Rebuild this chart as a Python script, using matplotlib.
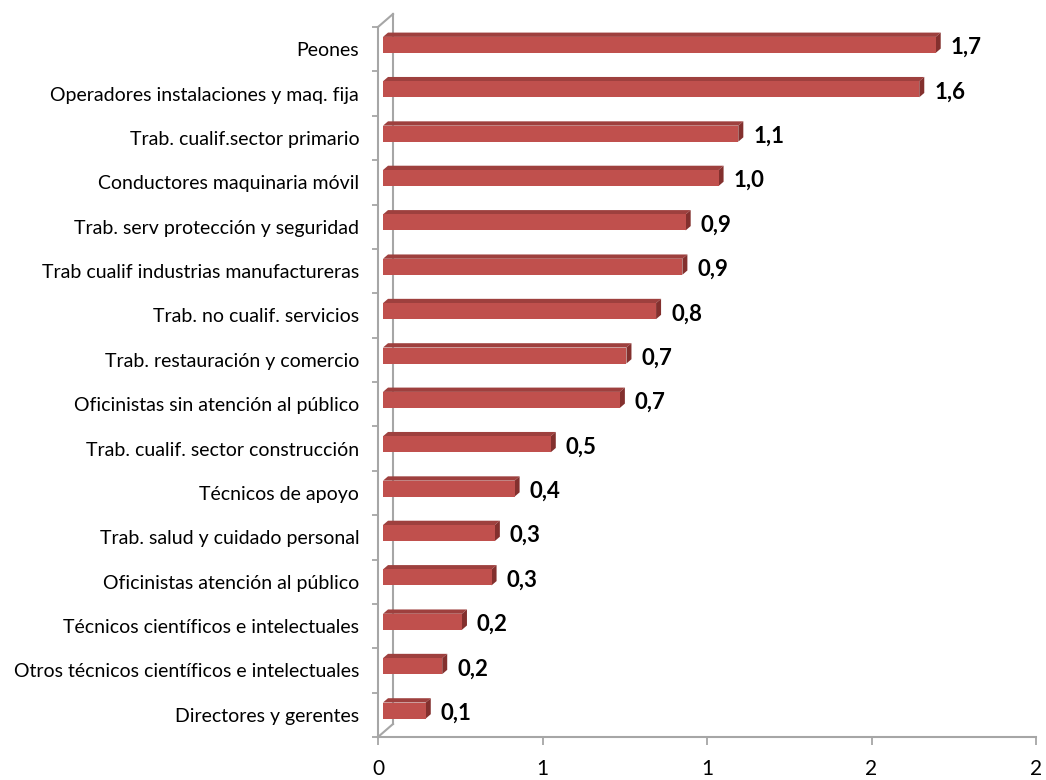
import matplotlib.pyplot as plt
from matplotlib.patches import Polygon
from matplotlib.lines import Line2D

# data (top to bottom as in the chart)
categories = [
    "Peones",
    "Operadores instalaciones y maq. fija",
    "Trab. cualif.sector primario",
    "Conductores maquinaria móvil",
    "Trab. serv protección y seguridad",
    "Trab cualif industrias manufactureras",
    "Trab. no cualif. servicios",
    "Trab. restauración y comercio",
    "Oficinistas sin atención al público",
    "Trab. cualif. sector construcción",
    "Técnicos de apoyo",
    "Trab. salud y cuidado personal",
    "Oficinistas atención al público",
    "Técnicos científicos e intelectuales",
    "Otros técnicos científicos e intelectuales",
    "Directores y gerentes",
]
values = [1.68, 1.63, 1.08, 1.02, 0.92, 0.91, 0.83, 0.74, 0.72, 0.51,
          0.40, 0.34, 0.33, 0.24, 0.18, 0.13]
xticks = [0, 0.5, 1, 1.5, 2]
xtick_labels = ["0", "1", "1", "2", "2"]

FRONT = "#C0504D"
TOP = "#9E403E"
SIDE = "#83302E"
AXC = "#A6A6A6"

plt.rcParams["font.family"] = ["Lato", "DejaVu Sans"]

W, H = 1046, 780
fig = plt.figure(figsize=(W / 100, H / 100), dpi=100)
left, right, bottom, top = 378, 1036, 737, 27
ax = fig.add_axes([left / W, 1 - bottom / H, (right - left) / W, (bottom - top) / H])

n = len(categories)
ax.set_xlim(0, 2)
ax.set_ylim(-0.5, n - 0.5)

# pixel -> data conversions for the oblique 3D look
px_x = 2 / (right - left)
px_y = n / (bottom - top)
wall_dx, wall_dy = 15 * px_x, 13 * px_y
dx1, dy1 = 5 * px_x, 4.3 * px_y      # front face of bars sits 1/3 into depth
ddx, ddy = 5 * px_x, 4.3 * px_y      # bar depth
bh = 16 * px_y

ypos = list(range(n - 1, -1, -1))
for y, v in zip(ypos, values):
    b = y - bh / 2 + dy1
    t = b + bh
    x0 = dx1
    x1 = dx1 + v
    ax.add_patch(Polygon([(x0, t), (x1, t), (x1 + ddx, t + ddy), (x0 + ddx, t + ddy)],
                         closed=True, facecolor=TOP, edgecolor="none", zorder=3))
    ax.add_patch(Polygon([(x1, b), (x1, t), (x1 + ddx, t + ddy), (x1 + ddx, b + ddy)],
                         closed=True, facecolor=SIDE, edgecolor="none", zorder=3))
    ax.barh(y + dy1, v, height=bh, left=x0, color=FRONT, edgecolor="none", zorder=4)
    ax.text(x1 + ddx + 10 * px_x, y + dy1 * 0.4, f"{v:.1f}".replace(".", ","),
            ha="left", va="center", fontsize=16, fontweight="bold", color="black")

# back wall lines
y_lo, y_hi = -0.5, n - 0.5
for xs, ys in [([0, wall_dx], [y_hi, y_hi + wall_dy]),
               ([wall_dx, wall_dx], [y_lo + wall_dy, y_hi + wall_dy]),
               ([0, wall_dx], [y_lo, y_lo + wall_dy])]:
    ax.add_line(Line2D(xs, ys, color=AXC, lw=1.5, clip_on=False, zorder=2))

for s in ["top", "right"]:
    ax.spines[s].set_visible(False)
for s in ["left", "bottom"]:
    ax.spines[s].set_color(AXC)
    ax.spines[s].set_linewidth(1.5)

ax.set_xticks(xticks)
ax.set_xticklabels(xtick_labels, fontsize=15)
ax.tick_params(axis="x", length=6, width=1.3, color=AXC, pad=10)

ax.set_yticks(ypos)
ax.set_yticklabels(categories, fontsize=14)
ax.set_yticks([i - 0.5 for i in range(n + 1)], minor=True)
ax.tick_params(axis="y", which="major", length=0, pad=13.5)
ax.tick_params(axis="y", which="minor", length=4.5, width=1.3, color=AXC)

fig.savefig("out.png", dpi=100)
